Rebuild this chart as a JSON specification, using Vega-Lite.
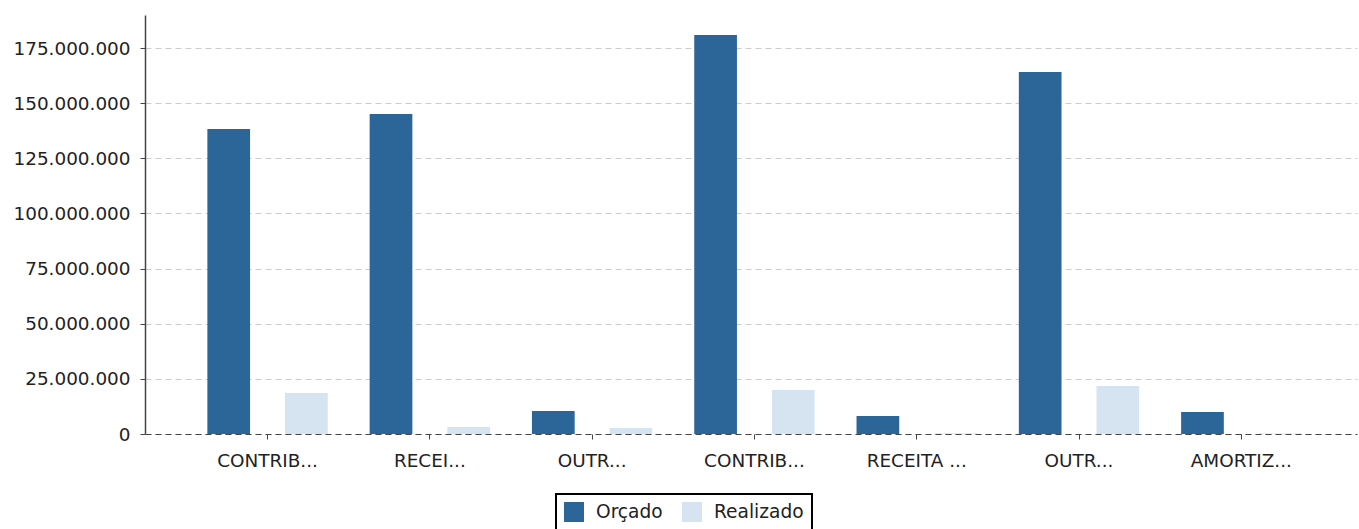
{
  "$schema": "https://vega.github.io/schema/vega-lite/v6.json",
  "width": 1212,
  "height": 419,
  "autosize": "none",
  "padding": {"left": 145, "top": 15, "right": 2, "bottom": 95},
  "config": {
    "locale": {"number": {"decimal": ",", "thousands": ".", "grouping": [3], "currency": ["R$ ", ""]}},
    "view": {"stroke": null},
    "font": "DejaVu Sans",
    "legend": {"strokeWidth": 2, "strokeColor": "#000000"}
  },
  "data": {
    "values": [
      {"k": 1, "serie": "Orçado", "valor": 138300000},
      {"k": 1, "serie": "Realizado", "valor": 18600000},
      {"k": 2, "serie": "Orçado", "valor": 145100000},
      {"k": 2, "serie": "Realizado", "valor": 3200000},
      {"k": 3, "serie": "Orçado", "valor": 10400000},
      {"k": 3, "serie": "Realizado", "valor": 2700000},
      {"k": 4, "serie": "Orçado", "valor": 180900000},
      {"k": 4, "serie": "Realizado", "valor": 19900000},
      {"k": 5, "serie": "Orçado", "valor": 8200000},
      {"k": 5, "serie": "Realizado", "valor": 300000},
      {"k": 6, "serie": "Orçado", "valor": 164100000},
      {"k": 6, "serie": "Realizado", "valor": 21800000},
      {"k": 7, "serie": "Orçado", "valor": 10000000},
      {"k": 7, "serie": "Realizado", "valor": 200000}
    ]
  },
  "mark": {"type": "bar"},
  "encoding": {
    "x": {
      "field": "k",
      "type": "ordinal",
      "sort": null,
      "scale": {"paddingInner": 0, "paddingOuter": 0.234, "align": 0.545},
      "axis": {
        "title": null,
        "labelAngle": 0,
        "labelExpr": "['CONTRIB...','RECEI...','OUTR...','CONTRIB...','RECEITA ...','OUTR...','AMORTIZ...'][datum.value - 1]",
        "labelFontSize": 18.4,
        "labelColor": "#222222",
        "labelPadding": 12,
        "tickSize": 5,
        "tickColor": "#444444",
        "domainColor": "#444444",
        "domainDash": [6, 4],
        "domainWidth": 1.2,
        "grid": false
      }
    },
    "xOffset": {
      "field": "serie",
      "type": "nominal",
      "sort": ["Orçado", "Realizado"],
      "scale": {"paddingInner": 0.45, "paddingOuter": 0.27}
    },
    "y": {
      "field": "valor",
      "type": "quantitative",
      "scale": {"domain": [0, 190000000], "nice": false},
      "axis": {
        "title": null,
        "values": [0, 25000000, 50000000, 75000000, 100000000, 125000000, 150000000, 175000000],
        "format": ",d",
        "labelFontSize": 18.4,
        "labelColor": "#222222",
        "labelPadding": 10,
        "tickSize": 5,
        "tickColor": "#444444",
        "domainColor": "#444444",
        "domainWidth": 1.5,
        "gridDash": [6, 4],
        "gridColor": "#cccccc"
      }
    },
    "color": {
      "field": "serie",
      "type": "nominal",
      "scale": {"domain": ["Orçado", "Realizado"], "range": ["#2c6699", "#d6e4f2"]},
      "legend": {
        "title": null,
        "orient": "none",
        "direction": "horizontal",
        "legendX": 411,
        "legendY": 479,
        "padding": 8,
        "symbolType": "square",
        "symbolSize": 400,
        "symbolStrokeWidth": 0,
        "labelFontSize": 18.6,
        "labelColor": "#222222",
        "labelOffset": 12,
        "columnPadding": 19
      }
    }
  }
}
